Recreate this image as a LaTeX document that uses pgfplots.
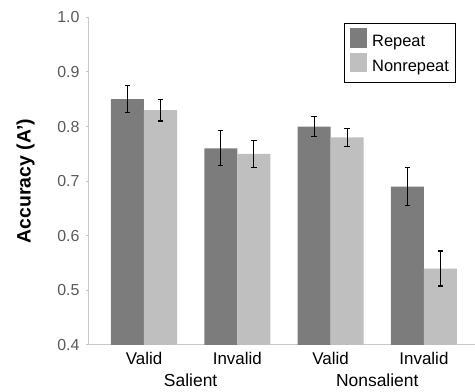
\documentclass[border=0pt]{standalone}
\usepackage{pgfplots}
\pgfplotsset{compat=1.18}
\usepackage{fontspec}
\setmainfont{Liberation Sans}
\definecolor{dk}{RGB}{124,124,124}
\definecolor{lt}{RGB}{191,191,191}
\definecolor{axg}{RGB}{200,200,200}
\definecolor{tl}{RGB}{89,89,89}
\begin{document}
\begin{tikzpicture}
\begin{axis}[name=ax, scale only axis, width=387bp, height=327.7bp,
  xmin=-0.6, xmax=3.547, ymin=0.4, ymax=1.0,
  clip mode=individual,
  axis x line*=bottom, axis y line*=left,
  axis line style={-, axg, line width=1pt},
  ytick={0.4,0.5,0.6,0.7,0.8,0.9,1.0},
  /pgf/number format/assume math mode=true,
  yticklabel style={/pgf/number format/fixed, /pgf/number format/fixed zerofill, /pgf/number format/precision=1,
    font=\fontsize{16}{19}\selectfont, text=tl, xshift=-3bp},
  xtick={0,1,2,3}, xticklabels={Valid,Invalid,Valid,Invalid},
  x tick label style={font=\fontsize{17}{20}\selectfont, anchor=north, inner sep=0pt, yshift=-5bp},
  tick align=outside, major tick length=2bp,
  y tick style={axg, line width=1pt}, x tick style={draw=none},
  ylabel={\textbf{Accuracy (A')}},
  every axis y label/.style={at={(rel axis cs:0,0.5)}, xshift=-62.5bp, rotate=90, anchor=center, font=\fontsize{19.5}{22}\selectfont},
  ybar, bar width=0.354,
  legend style={at={(0.661,0.9835)}, anchor=north west, draw=black, line width=0.8pt,
    font=\fontsize{16.5}{20}\selectfont, inner xsep=6bp, inner ysep=5bp, row sep=0pt,
    nodes={inner sep=0pt, text height=14bp, text depth=6bp},
    /tikz/every odd column/.append style={column sep=5bp}},
  legend cell align=left,
  legend image code/.code={\fill[#1, draw=none] (0bp,-5bp) rectangle (17bp,14.5bp);},
  error bars/error bar style={black, line width=1.2bp},
  error bars/error mark options={rotate=90, mark size=2.7bp, line width=1.2bp, black},
]
\addplot[fill=dk, draw=none, bar shift=-0.177,
  error bars/.cd, y dir=both, y explicit] coordinates {
  (0,0.85) +- (0,0.025)
  (1,0.76) +- (0,0.032)
  (2,0.80) +- (0,0.018)
  (3,0.69) +- (0,0.035)
};
\addplot[fill=lt, draw=none, bar shift=0.177,
  error bars/.cd, y dir=both, y explicit] coordinates {
  (0,0.83) +- (0,0.020)
  (1,0.75) +- (0,0.025)
  (2,0.78) +- (0,0.016)
  (3,0.54) +- (0,0.032)
};
\legend{Repeat,Nonrepeat}
\node[anchor=north, inner sep=0pt, font=\fontsize{17.5}{20}\selectfont] at (axis cs:0.5,0.4) [yshift=-29bp] {Salient};
\node[anchor=north, inner sep=0pt, font=\fontsize{17.5}{20}\selectfont] at (axis cs:2.5,0.4) [yshift=-29bp] {Nonsalient};
\end{axis}
\pgfresetboundingbox
\path ([shift={(-88bp,-47bp)}]ax.south west) rectangle ([shift={(0bp,17.3bp)}]ax.north east);
\end{tikzpicture}
\end{document}
